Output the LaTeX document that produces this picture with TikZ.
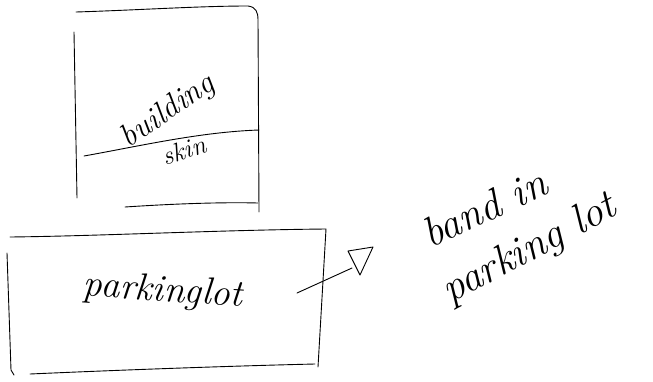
\documentclass[tikz,border=0pt]{standalone}
\usetikzlibrary{shapes.geometric}
\begin{document}
\begin{tikzpicture}[x=1pt,y=-1pt,
  sketch/.style={line width=0.9pt,line cap=round,line join=round},
  hand/.style={inner sep=0pt}]
\useasboundingbox (0,0) rectangle (653,381);
% building box
\draw[sketch] (76,12) .. controls (140,10) and (200,6) .. (248,6)
  .. controls (256,7) and (258,12) .. (258,20) -- (259,212);
\draw[sketch] (74,32) -- (77,198);
\draw[sketch] (125,207) .. controls (170,204) and (220,202) .. (258,203);
% skin line
\draw[sketch] (84,156) .. controls (140,146) and (200,132) .. (259,130);
\node[hand,rotate=35,font=\itshape\fontsize{32}{32}\selectfont] (bld) at (168,112) {building};
\node[hand,rotate=18,font=\itshape\fontsize{26}{26}\selectfont] (skin) at (184,150) {skin};
% parking box
\draw[sketch] (10,237) .. controls (100,236) and (220,230) .. (326,229)
  -- (318,367);
\draw[sketch] (7,253) -- (11,370) -- (14,375);
\draw[sketch] (30,374) .. controls (120,370) and (230,366) .. (315,364);
\node[hand,rotate=-4,font=\itshape\fontsize{38}{38}\selectfont] (lot) at (163,292) {parkinglot};
% arrow
\coordinate (a0) at (297,293);
\coordinate (a1) at (352,268);
\draw[sketch] (a0) -- (a1);
\draw[sketch] (348,251) -- (373,247) -- (360,275) -- cycle;
\node[hand,rotate=25,font=\itshape\fontsize{42}{42}\selectfont] (band) at (484,208) {band in};
\node[hand,rotate=28,font=\itshape\fontsize{42}{42}\selectfont] (pl) at (530,250) {parking lot};
\end{tikzpicture}
\end{document}
